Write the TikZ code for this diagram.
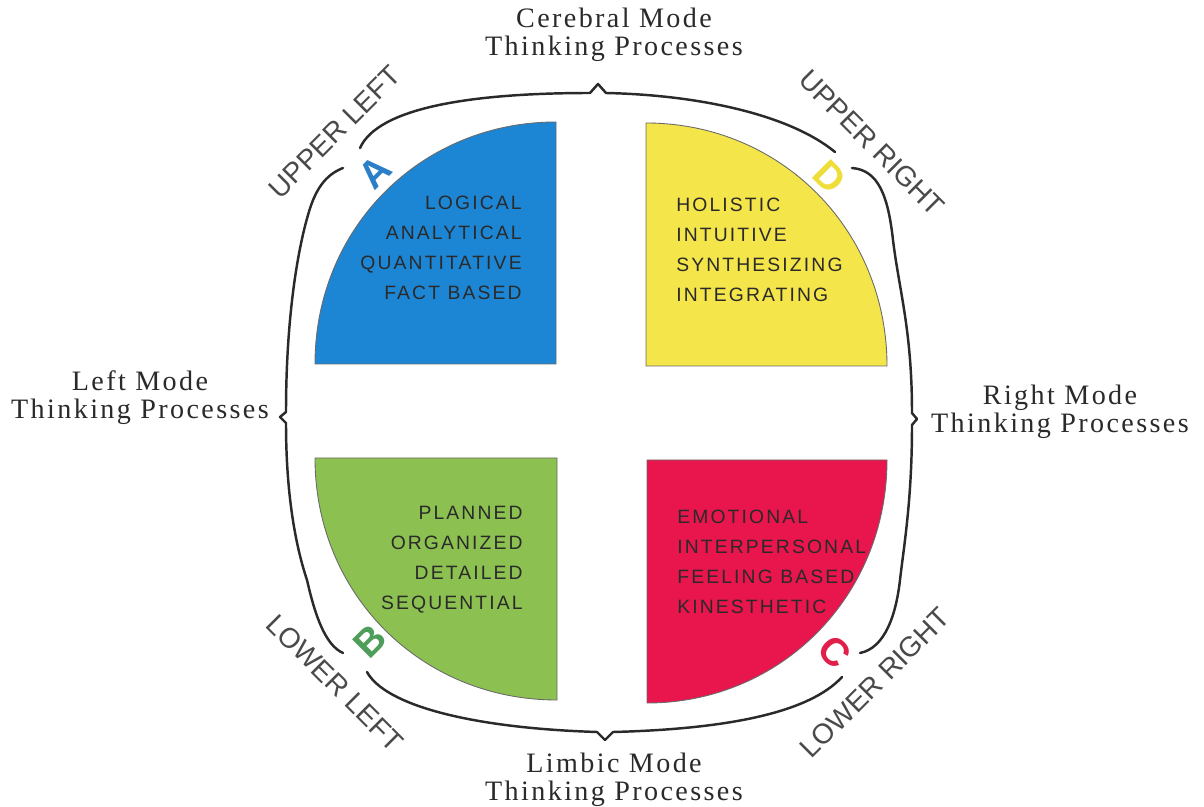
\documentclass[tikz,border=0pt]{standalone}
\usepackage{fontspec}
\setmainfont{Liberation Serif}
\newfontfamily\quadfont[LetterSpace=11]{Liberation Sans}
\newfontfamily\cornerfont{Liberation Sans}
\newfontfamily\modefont[LetterSpace=8.5]{Liberation Serif}
\newfontfamily\letterfont{Liberation Sans}
\definecolor{qblue}{HTML}{1C86D4}
\definecolor{qyellow}{HTML}{F4E54A}
\definecolor{qgreen}{HTML}{8CC151}
\definecolor{qred}{HTML}{E8164C}
\definecolor{ink}{HTML}{2A2A2A}
\definecolor{lblue}{HTML}{2A7FC8}
\definecolor{lyellow}{HTML}{EFDD3A}
\definecolor{lgreen}{HTML}{4E9E5A}
\definecolor{lred}{HTML}{E0204A}
\tikzset{
  quad/.style={draw=ink!70, line width=0.5pt},
  qtext/.style={font=\quadfont\fontsize{11}{17}\selectfont, text=ink, inner sep=0pt},
  bracepath/.style={draw=ink, line width=1.4pt, line cap=round, line join=round},
  corner/.style={font=\cornerfont\fontsize{16}{18}\selectfont, text=ink!85, inner sep=0pt},
  mode/.style={font=\modefont\fontsize{16}{16}\selectfont, align=center, text=ink, inner sep=0pt},
  letter/.style={font=\letterfont\bfseries\fontsize{22}{22}\selectfont, inner sep=0pt}
}
\begin{document}
\begin{tikzpicture}[x=0.02cm, y=-0.02cm]
\useasboundingbox[fill=white] (0,0) rectangle (1204,807);
% quadrants
\filldraw[quad, fill=qblue] (315,364) .. controls (315,228) and (421,122) .. (556,122) -- (556,364) -- cycle;
\filldraw[quad, fill=qyellow] (646,123) .. controls (781,123) and (887,230) .. (887,366) -- (646,366) -- cycle;
\filldraw[quad, fill=qgreen] (315,458) .. controls (315,594) and (421,700) .. (557,700) -- (557,458) -- cycle;
\filldraw[quad, fill=qred] (647,703) .. controls (781,703) and (887,596) .. (887,460) -- (647,460) -- cycle;
% quadrant texts
\node[qtext, anchor=north east, align=right] (ta) at (522,196) {LOGICAL\\ANALYTICAL\\QUANTITATIVE\\FACT BASED};
\node[qtext, anchor=north west, align=left] (td) at (676,198) {HOLISTIC\\INTUITIVE\\SYNTHESIZING\\INTEGRATING};
\node[qtext, anchor=north east, align=right] (tb) at (523,506) {PLANNED\\ORGANIZED\\DETAILED\\SEQUENTIAL};
\node[qtext, anchor=north west, align=left] (tc) at (677,510) {EMOTIONAL\\INTERPERSONAL\\FEELING BASED\\KINESTHETIC};
% letters
\node[letter, text=lblue, rotate=45] (la) at (375,172) {A};
\node[letter, text=lyellow, rotate=-45] (ld) at (830,177) {D};
\node[letter, text=lgreen, rotate=45] (lb) at (370,641) {B};
\node[letter, text=lred, rotate=-45] (lc) at (835,652) {C};
% corner labels
\node[corner, rotate=45] (ul) at (335,132) {UPPER LEFT};
\node[corner, rotate=-45] (ur) at (872,143) {UPPER RIGHT};
\node[corner, rotate=-45] (ll) at (335,683) {LOWER LEFT};
\node[corner, rotate=45] (lr) at (875,683) {LOWER RIGHT};
% mode labels
\node[mode] (top) at (614,35) {Cerebral Mode\\Thinking Processes};
\node[mode] (left) at (140,398) {Left Mode\\Thinking Processes};
\node[mode] (right) at (1060,412) {Right Mode\\Thinking Processes};
\node[mode] (bottom) at (614,780) {Limbic Mode\\Thinking Processes};
% brackets
\draw[bracepath] (360,148) .. controls (378,108) and (470,93) .. (590,93) -- (598,84) -- (606,93) .. controls (700,95) and (790,115) .. (835,152);
\draw[bracepath] (852,168) .. controls (878,170) and (888,195) .. (893,240) .. controls (899,290) and (912,330) .. (912,413) -- (917,419) -- (912,425) .. controls (912,500) and (904,545) .. (900,580) .. controls (896,615) and (885,648) .. (860,653);
\draw[bracepath] (343,168) .. controls (325,175) and (315,190) .. (308,215) .. controls (295,260) and (286,330) .. (286,412) -- (280,417) -- (286,423) .. controls (286,500) and (297,550) .. (307,580) .. controls (315,615) and (325,645) .. (343,653);
\draw[bracepath] (367,672) .. controls (385,705) and (470,728) .. (597,732) -- (605,740) -- (613,732) .. controls (730,729) and (810,712) .. (842,677);
\end{tikzpicture}
\end{document}
